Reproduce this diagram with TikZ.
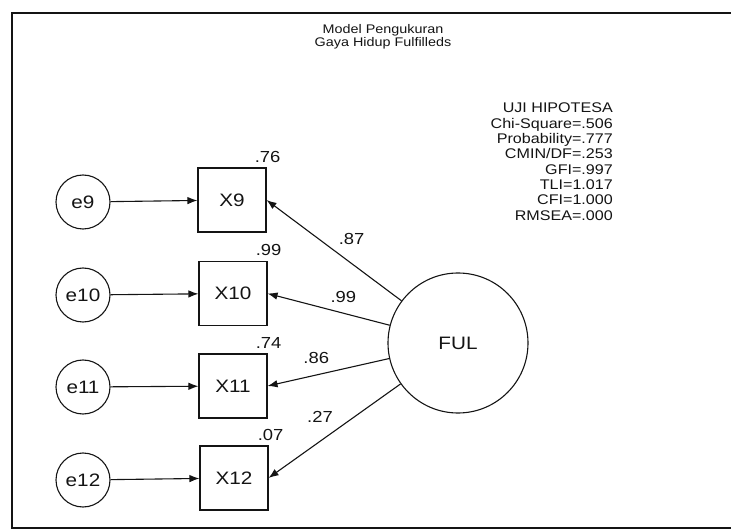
\documentclass[tikz,border=0pt]{standalone}
\usepackage{fontspec}
\setmainfont{Liberation Sans}[FakeStretch=1.15]
\usetikzlibrary{arrows.meta}
\definecolor{inkC}{RGB}{20,20,20}

\begin{document}
\begin{tikzpicture}[x=1pt,y=-1pt,inkC,>={Latex[length=10pt,width=7.5pt]},
  errC/.style={draw,line width=1.1pt,circle,minimum size=54pt,inner sep=0pt,font=\fontsize{18}{18}\selectfont},
  obsC/.style={draw,line width=1.1pt,rectangle,minimum width=68pt,minimum height=64pt,inner sep=0pt,font=\fontsize{18}{18}\selectfont},
  latC/.style={draw,line width=1.1pt,circle,minimum size=140pt,inner sep=0pt,font=\fontsize{18}{18}\selectfont},
  lnk/.style={->,line width=1.1pt},
  wt/.style={inner sep=0pt,font=\fontsize{16}{16}\selectfont}]
  \useasboundingbox (0,0) rectangle (731,529);
  % frame
  \draw[line width=1.6pt] (731,13) -- (12,13) -- (12,528) -- (731,528);
  % title and fit
  \node[align=center,font=\fontsize{12.5}{13.5}\selectfont] (title) at (383,37)
     {Model Pengukuran\\Gaya Hidup Fulfilleds};
  \node[anchor=north east,align=right,inner sep=0pt,font=\fontsize{14}{15.3}\selectfont] (fit) at (613,103)
     {UJI HIPOTESA\\Chi-Square=.506\\Probability=.777\\CMIN/DF=.253\\GFI=.997\\TLI=1.017\\CFI=1.000\\RMSEA=.000};
  % latent
  \node[latC] (FUL) at (458,343) {FUL};
  % indicators and errors
  \node[obsC] (X9)  at (232,200) {X9};
  \node[obsC] (X10) at (233,293.5) {X10};
  \node[obsC] (X11) at (233,386) {X11};
  \node[obsC] (X12) at (234,478) {X12};
  \node[errC] (e9)  at (83,202) {e9};
  \node[errC] (e10) at (83,295) {e10};
  \node[errC] (e11) at (83,387) {e11};
  \node[errC] (e12) at (83,480) {e12};
  \foreach \i in {9,10,11,12}{
    \draw[lnk] (e\i) -- (X\i);
  }
  % squared multiple correlations
  \node[wt,anchor=south] (r9)  at ([xshift=1pt,yshift=5pt]X9.north east)  {.76};
  \node[wt,anchor=south] (r10) at ([xshift=1pt,yshift=5pt]X10.north east) {.99};
  \node[wt,anchor=south] (r11) at ([xshift=1pt,yshift=5pt]X11.north east) {.74};
  \node[wt,anchor=south] (r12) at ([xshift=2pt,yshift=5pt]X12.north east) {.07};
  % loadings
  \draw[lnk] (FUL) -- (X9.east)  node[wt,pos=.37,yshift=25pt] (l9) {.87};
  \draw[lnk] (FUL) -- (X10.east) node[wt,pos=.38,yshift=16pt] (l10) {.99};
  \draw[lnk] (FUL) -- (X11.east) node[wt,pos=.6,yshift=17pt] (l11) {.86};
  \draw[lnk] (FUL) -- (X12.east) node[wt,pos=.61,yshift=24pt] (l12) {.27};
\end{tikzpicture}
\end{document}
